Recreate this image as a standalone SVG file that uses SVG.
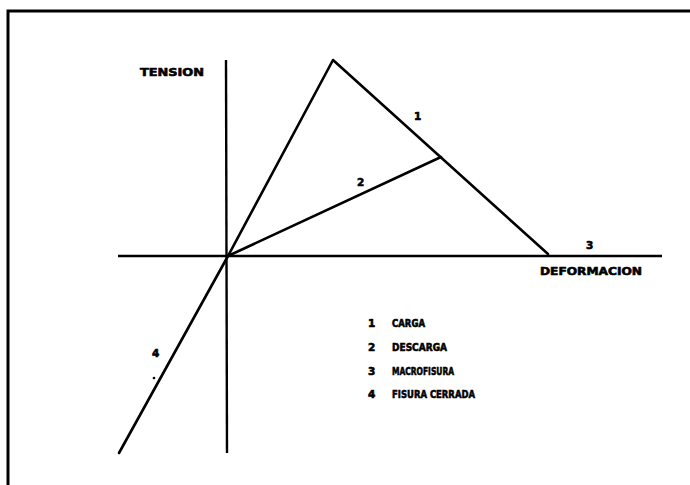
<svg xmlns="http://www.w3.org/2000/svg" width="690" height="485" viewBox="0 0 690 485">
<style>
.ln{stroke:#000;stroke-width:2.6;fill:none;stroke-linecap:round;stroke-linejoin:round}
.ax{stroke:#000;stroke-width:2.4;fill:none}
.fr{stroke:#000;stroke-width:3;fill:none}
text{font-family:"DejaVu Sans","Liberation Sans",sans-serif;font-weight:900;font-size:10.5px;fill:#000;stroke:#000;stroke-width:0.6}
</style>
<rect width="690" height="485" fill="#fff"/>
<g id="frame"><path class="fr" d="M8,485 V11 H690"/></g>
<g id="axes">
<line class="ax" x1="226" y1="60" x2="227" y2="453"/>
<line class="ax" x1="118" y1="256" x2="662" y2="256"/>
<text x="140" y="76" textLength="64" lengthAdjust="spacingAndGlyphs">TENSION</text>
<text x="540" y="275" textLength="102" lengthAdjust="spacingAndGlyphs">DEFORMACION</text>
</g>
<g id="connectors">
<polyline class="ln" points="228,256 333,60 548,254"/>
<line class="ln" x1="228" y1="256" x2="441" y2="157"/>
<line class="ln" x1="228" y1="256" x2="119" y2="453"/>
</g>
<g id="labels">
<text x="414" y="120">1</text>
<text x="357" y="186">2</text>
<text x="586" y="249">3</text>
<text x="152" y="357">4</text>
<circle cx="154" cy="378" r="1.3" fill="#000"/>
</g>
<g id="legend">
<text x="368" y="327">1</text><text x="392" y="327" textLength="33" lengthAdjust="spacingAndGlyphs">CARGA</text>
<text x="368" y="351">2</text><text x="392" y="351" textLength="55" lengthAdjust="spacingAndGlyphs">DESCARGA</text>
<text x="368" y="375">3</text><text x="392" y="375" textLength="62" lengthAdjust="spacingAndGlyphs">MACROFISURA</text>
<text x="368" y="398">4</text><text x="392" y="398" textLength="83" lengthAdjust="spacingAndGlyphs">FISURA CERRADA</text>
</g>
</svg>
